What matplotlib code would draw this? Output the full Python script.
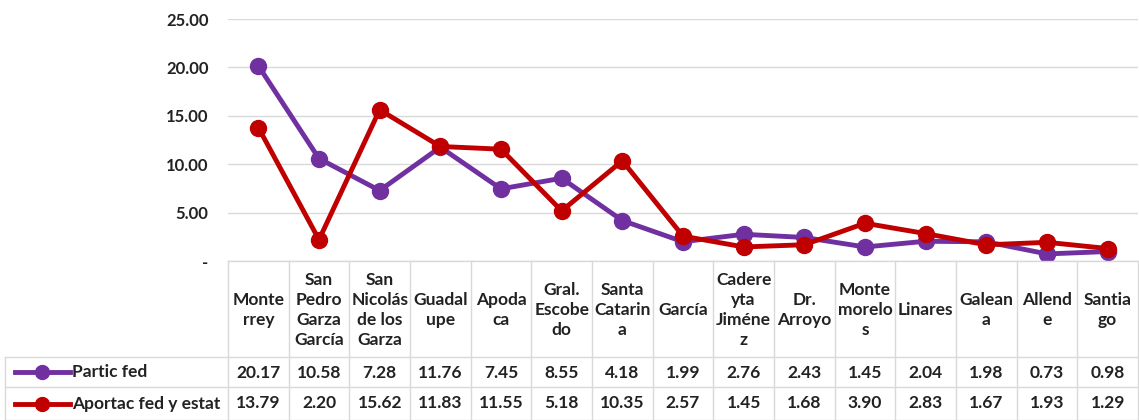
import matplotlib.pyplot as plt
import matplotlib.transforms as mtransforms
from matplotlib.lines import Line2D

municipios = ['Monte\nrrey', 'San\nPedro\nGarza\nGarcía', 'San\nNicolás\nde los\nGarza',
              'Guadal\nupe', 'Apoda\nca', 'Gral.\nEscobe\ndo', 'Santa\nCatarin\na',
              'García', 'Cadere\nyta\nJiméne\nz', 'Dr.\nArroyo', 'Monte\nmorelo\ns',
              'Linares', 'Galean\na', 'Allend\ne', 'Santia\ngo']
partic_fed = [20.17, 10.58, 7.28, 11.76, 7.45, 8.55, 4.18, 1.99, 2.76, 2.43, 1.45, 2.04, 1.98, 0.73, 0.98]
aportac = [13.79, 2.20, 15.62, 11.83, 11.55, 5.18, 10.35, 2.57, 1.45, 1.68, 3.90, 2.83, 1.67, 1.93, 1.29]
series_names = ['Partic fed', 'Aportac fed y estat']
colores = ['#7030A0', '#C00000']

plt.rcParams['font.family'] = ['Lato', 'DejaVu Sans']

W, H = 1139, 420
fig = plt.figure(figsize=(W / 100, H / 100), dpi=100)
# area del grafico en pixeles
x0, x1 = 228, 1138
y_top, y_bot = 19, 261
ax = fig.add_axes([x0 / W, 1 - y_bot / H, (x1 - x0) / W, (y_bot - y_top) / H])

n = len(municipios)
xs = list(range(n))
for vals, c in zip([partic_fed, aportac], colores):
    ax.plot(xs, vals, color=c, lw=3.5, marker='o', ms=11.5, solid_capstyle='round')

ax.set_xlim(-0.5, n - 0.5)
ax.set_ylim(0, 25)
ax.set_yticks([0, 5, 10, 15, 20, 25])
ax.set_yticklabels(['-', '5.00', '10.00', '15.00', '20.00', '25.00'],
                   fontsize=12, fontweight='bold', color='#222222')
ax.tick_params(axis='y', length=0, pad=14)
ax.set_xticks([])
ax.grid(axis='y', color='#d9d9d9', lw=1)
ax.set_axisbelow(True)
for s in ax.spines.values():
    s.set_visible(False)

# tabla de datos abajo
tr = mtransforms.blended_transform_factory(ax.transData, fig.transFigure)
def fy(py):
    return 1 - py / H

gc = '#d9d9d9'
txt = '#222222'
fs = 12.5
row1, row2 = 357, 387
xl = -0.5 - (x0 - 5) / ((x1 - x0) / n)
for py, xa in [(y_bot, -0.5), (row1, xl), (row2, xl), (419.5, xl)]:
    fig.add_artist(Line2D([xa, n - 0.5], [fy(py), fy(py)], transform=tr, color=gc, lw=1))
for i in range(n + 1):
    fig.add_artist(Line2D([i - 0.5, i - 0.5], [fy(y_bot), fy(420)], transform=tr, color=gc, lw=1))
fig.add_artist(Line2D([xl, xl], [fy(row1), fy(420)], transform=tr, color=gc, lw=1))

for i, lab in enumerate(municipios):
    fig.text(i, fy((y_bot + row1) / 2 + 1), lab, transform=tr, ha='center', va='center',
             fontsize=fs, fontweight='bold', linespacing=1.3, color=txt)
    fig.text(i, fy((row1 + row2) / 2 + 1), f'{partic_fed[i]:.2f}', transform=tr, ha='center',
             va='center', fontsize=fs, fontweight='bold', color=txt)
    fig.text(i, fy((row2 + 420) / 2), f'{aportac[i]:.2f}', transform=tr, ha='center',
             va='center', fontsize=fs, fontweight='bold', color=txt)

for nombre, c, (ya, yb) in zip(series_names, colores, [(row1, row2), (row2, 420)]):
    yc = fy((ya + yb) / 2)
    fig.add_artist(Line2D([15 / W, 70 / W], [yc, yc], transform=fig.transFigure, color=c, lw=3.5))
    fig.add_artist(Line2D([42 / W], [yc], transform=fig.transFigure, color=c, marker='o', ms=10))
    fig.text(72 / W, yc, nombre, ha='left', va='center', fontsize=fs, fontweight='bold', color=txt)

fig.savefig('out.png', dpi=100)
